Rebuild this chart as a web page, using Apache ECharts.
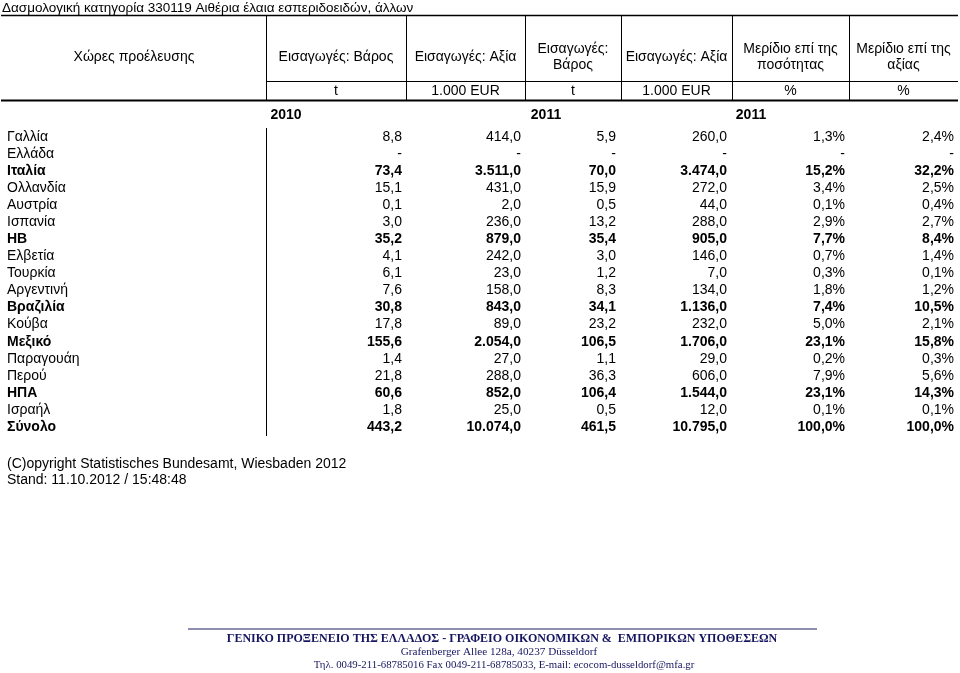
<!DOCTYPE html>
<html>
<head>
<meta charset="utf-8">
<script src="https://cdn.jsdelivr.net/npm/echarts@6/dist/echarts.min.js"></script>
<style>
html,body{margin:0;padding:0;background:#fff;}
#chart{width:960px;height:673px;}
</style>
</head>
<body>
<div id="chart"></div>
<script>
// ---------- DATA ----------
const title = 'Δασμολογική κατηγορία 330119 Αιθέρια έλαια εσπεριδοειδών, άλλων';
const countries = ['Γαλλία','Ελλάδα','Ιταλία','Ολλανδία','Αυστρία','Ισπανία','ΗΒ','Ελβετία','Τουρκία','Αργεντινή','Βραζιλία','Κούβα','Μεξικό','Παραγουάη','Περού','ΗΠΑ','Ισραήλ','Σύνολο'];
const weight2010 = [8.8, null, 73.4, 15.1, 0.1, 3.0, 35.2, 4.1, 6.1, 7.6, 30.8, 17.8, 155.6, 1.4, 21.8, 60.6, 1.8, 443.2];
const value2010  = [414.0, null, 3511.0, 431.0, 2.0, 236.0, 879.0, 242.0, 23.0, 158.0, 843.0, 89.0, 2054.0, 27.0, 288.0, 852.0, 25.0, 10074.0];
const weight2011 = [5.9, null, 70.0, 15.9, 0.5, 13.2, 35.4, 3.0, 1.2, 8.3, 34.1, 23.2, 106.5, 1.1, 36.3, 106.4, 0.5, 461.5];
const value2011  = [260.0, null, 3474.0, 272.0, 44.0, 288.0, 905.0, 146.0, 7.0, 134.0, 1136.0, 232.0, 1706.0, 29.0, 606.0, 1544.0, 12.0, 10795.0];
const shareQty   = [1.3, null, 15.2, 3.4, 0.1, 2.9, 7.7, 0.7, 0.3, 1.8, 7.4, 5.0, 23.1, 0.2, 7.9, 23.1, 0.1, 100.0];
const shareValue = [2.4, null, 32.2, 2.5, 0.4, 2.7, 8.4, 1.4, 0.1, 1.2, 10.5, 2.1, 15.8, 0.3, 5.6, 14.3, 0.1, 100.0];
const headerFirst = 'Χώρες προέλευσης';
const columnHeaders = ['Εισαγωγές: Βάρος', 'Εισαγωγές: Αξία', 'Εισαγωγές:\nΒάρος', 'Εισαγωγές: Αξία', 'Μερίδιο επί της\nποσότητας', 'Μερίδιο επί της\nαξίας'];
const columnUnits = ['t', '1.000 EUR', 't', '1.000 EUR', '%', '%'];
const yearLabels = ['2010', '2011', '2011'];
const boldRows = ['Ιταλία', 'ΗΒ', 'Βραζιλία', 'Μεξικό', 'ΗΠΑ', 'Σύνολο'];
const sourceLines = ['(C)opyright Statistisches Bundesamt, Wiesbaden 2012', 'Stand: 11.10.2012 / 15:48:48'];
const footerLines = ['ΓΕΝΙΚΟ ΠΡΟΞΕΝΕΙΟ ΤΗΣ ΕΛΛΑΔΟΣ - ΓΡΑΦΕΙΟ ΟΙΚΟΝΟΜΙΚΩΝ &  ΕΜΠΟΡΙΚΩΝ ΥΠΟΘΕΣΕΩΝ', 'Grafenberger Allee 128a, 40237 Düsseldorf', 'Τηλ. 0049-211-68785016 Fax 0049-211-68785033, E-mail: ecocom-dusseldorf@mfa.gr'];

// ---------- LAYOUT / STYLE ----------
const FONT = '"Liberation Sans", Arial, Helvetica, sans-serif';
const SERIF = '"Liberation Serif", "Times New Roman", serif';
const FS = 14;
const COL_EDGES = [266, 406, 525, 621, 732, 849, 958];  // column borders (x-axis units = px)
const COL_RIGHT = [402, 521, 616, 727, 845, 954];       // right-aligned text anchor
const NAME_X = 7;

function fmtNum(v) {
  if (v === null || v === undefined) return '-';
  const parts = v.toFixed(1).split('.');
  parts[0] = parts[0].replace(/\B(?=(\d{3})+(?!\d))/g, '.');
  return parts[0] + ',' + parts[1];
}
function fmtPct(v) {
  return (v === null || v === undefined) ? '-' : fmtNum(v) + '%';
}

const columns = [
  { values: weight2010, fmt: fmtNum },
  { values: value2010, fmt: fmtNum },
  { values: weight2011, fmt: fmtNum },
  { values: value2011, fmt: fmtNum },
  { values: shareQty, fmt: fmtPct },
  { values: shareValue, fmt: fmtPct }
];

const series = [];
// country names
series.push({
  type: 'scatter', symbolSize: 0, silent: true,
  itemStyle: { opacity: 1 },
  data: countries.map((c) => ({
    value: [NAME_X, c],
    label: { fontWeight: boldRows.includes(c) ? 'bold' : 'normal' }
  })),
  label: {
    show: true, position: 'right', distance: 0, color: '#000',
    fontFamily: FONT, fontSize: FS,
    formatter: (p) => p.value[1]
  }
});
columns.forEach((col, ci) => {
  series.push({
    type: 'scatter', symbolSize: 0, silent: true,
    itemStyle: { opacity: 1 },
    data: countries.map((c, i) => ({
      value: [COL_RIGHT[ci], c, col.values[i]],
      label: { fontWeight: boldRows.includes(c) ? 'bold' : 'normal' }
    })),
    label: {
      show: true, position: 'left', distance: 0, color: '#000',
      fontFamily: FONT, fontSize: FS,
      formatter: (p) => col.fmt(p.value[2])
    }
  });
});

// ---------- GRAPHIC (table rules and header texts) ----------
const g = [];
const LINE = '#000';
function hline(x1, x2, y, w) { g.push({ type: 'line', shape: { x1, y1: y, x2, y2: y }, style: { stroke: LINE, lineWidth: w }, silent: true }); }
function vline(x, y1, y2, w) { g.push({ type: 'line', shape: { x1: x, y1, x2: x, y2 }, style: { stroke: LINE, lineWidth: w }, silent: true }); }
function text(t, x, y, opts) {
  g.push({ type: 'text', x, y, silent: true,
    style: Object.assign({ text: t, font: FS + 'px ' + FONT, fill: '#000', textAlign: 'center', textVerticalAlign: 'middle' }, opts || {}) });
}
hline(1, 958, 15.5, 1.5);
hline(COL_EDGES[0], 958, 81.5, 1);
hline(1, 958, 100.5, 2);
COL_EDGES.slice(0, 6).forEach((x) => vline(x + 0.5, 15, 100, 1));
vline(COL_EDGES[0] + 0.5, 128, 436, 1);
text(headerFirst, COL_EDGES[0] / 2 + 1, 57);
columnHeaders.forEach((h, i) => {
  const cx = (COL_EDGES[i] + COL_EDGES[i + 1]) / 2;
  text(h, cx, 57, { lineHeight: 16 });
  text(columnUnits[i], cx, 91);
});
const yearX = [286, 546, 751];
yearLabels.forEach((y, i) => text(y, yearX[i], 115, { font: 'bold ' + FS + 'px ' + FONT }));
sourceLines.forEach((s, i) => text(s, 7, 464 + i * 16, { textAlign: 'left' }));
g.push({ type: 'line', shape: { x1: 188, y1: 629, x2: 817, y2: 629 }, style: { stroke: '#8e8fae', lineWidth: 2 }, silent: true });
text(footerLines[0], 502, 639, { font: 'bold 12px ' + SERIF, fill: '#161660' });
text(footerLines[1], 499, 652, { font: '11.2px ' + SERIF, fill: '#161660' });
text(footerLines[2], 504, 665, { font: '10.8px ' + SERIF, fill: '#161660' });

const chart = echarts.init(document.getElementById('chart'), null, { renderer: 'canvas' });
chart.setOption({
  animation: false,
  backgroundColor: '#fff',
  title: { text: title, left: 2, top: 1, padding: 0, textStyle: { fontFamily: FONT, fontSize: 13.5, fontWeight: 'normal', color: '#000' } },
  grid: { left: 0, right: 0, top: 128.5, bottom: 237.5, containLabel: false },
  xAxis: { type: 'value', min: 0, max: 960, show: false },
  yAxis: { type: 'category', data: countries, inverse: true, show: false },
  series: series,
  graphic: g
});
</script>
</body>
</html>
